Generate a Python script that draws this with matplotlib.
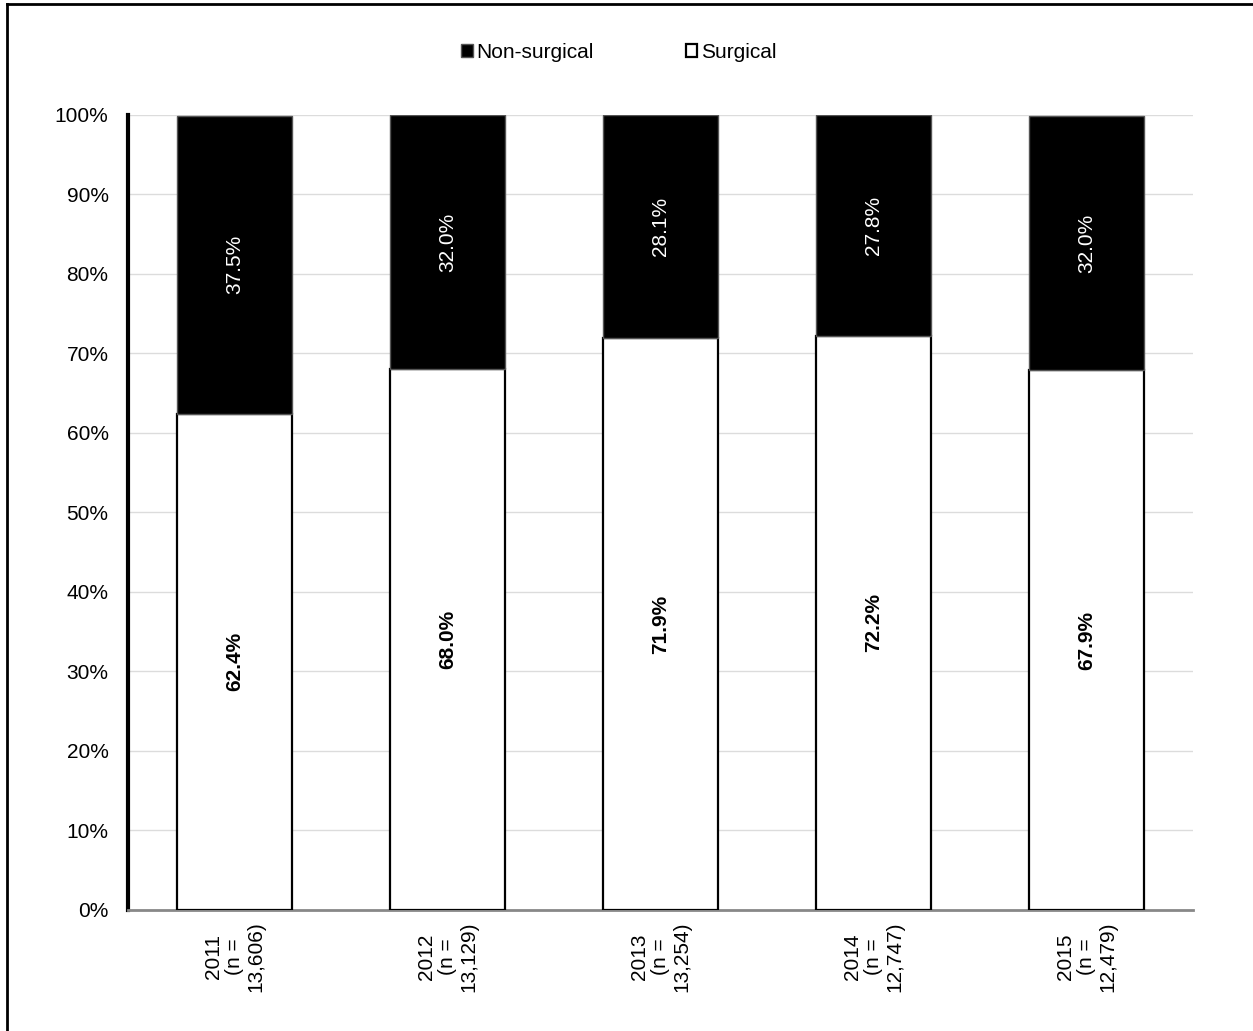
import matplotlib.pyplot as plt
from matplotlib.lines import Line2D

plt.rcParams['font.family'] = ['Liberation Sans', 'DejaVu Sans']

years = ['2011', '2012', '2013', '2014', '2015']
counts = ['13,606', '13,129', '13,254', '12,747', '12,479']
surgical = [62.4, 68.0, 71.9, 72.2, 67.9]
non_surgical = [37.5, 32.0, 28.1, 27.8, 32.0]

fig = plt.figure(figsize=(12.53, 10.31), dpi=100)
ax = fig.add_axes([0.1022, 0.1174, 0.8500, 0.7711])

x = list(range(len(years)))
w = 0.54
b1 = ax.bar(x, surgical, w, color='white', edgecolor='black', linewidth=1.6,
            label='Surgical', zorder=3)
b2 = ax.bar(x, non_surgical, w, bottom=surgical, color='black', edgecolor='#555555',
            linewidth=1.0, label='Non-surgical', zorder=3)

for i in x:
    ax.text(i, surgical[i] / 2, '%.1f%%' % surgical[i], rotation=90, ha='center',
            va='center', fontsize=15, fontweight='bold', color='black', zorder=4)
    ax.text(i, surgical[i] + non_surgical[i] / 2, '%.1f%%' % non_surgical[i],
            rotation=90, ha='center', va='center', fontsize=15, color='white', zorder=4)

ax.set_xlim(-0.5, 4.5)
ax.set_ylim(0, 100)
ax.set_yticks(range(0, 101, 10))
ax.set_yticklabels(['%d%%' % v for v in range(0, 101, 10)], fontsize=15)
ax.set_xticks(x)
ax.set_xticklabels(['%s\n(n =\n%s)' % (y, c) for y, c in zip(years, counts)],
                   rotation=90, fontsize=15, multialignment='center',
                   linespacing=1.15)
ax.tick_params(axis='both', length=0)
ax.tick_params(axis='y', pad=14)
ax.tick_params(axis='x', pad=8)

ax.grid(axis='y', color='#dcdcdc', linewidth=1.0, zorder=0)
ax.set_axisbelow(True)
for s in ['top', 'right']:
    ax.spines[s].set_visible(False)
ax.spines['left'].set_linewidth(3)
ax.spines['left'].set_color('black')
ax.spines['bottom'].set_linewidth(2)
ax.spines['bottom'].set_color('#888888')

fig.legend([b2, b1], ['Non-surgical', 'Surgical'], loc='center',
           bbox_to_anchor=(0.494, 0.949), ncol=2, frameon=False, fontsize=15,
           handlelength=0.55, handleheight=0.55, handletextpad=0.2, columnspacing=4.4)

# outer frame
fig.add_artist(Line2D([0.0056, 0.0056], [0, 0.9966], transform=fig.transFigure,
                      color='black', linewidth=2))
fig.add_artist(Line2D([0.0056, 1.0], [0.9966, 0.9966], transform=fig.transFigure,
                      color='black', linewidth=2))

fig.savefig('out.png', dpi=100)
